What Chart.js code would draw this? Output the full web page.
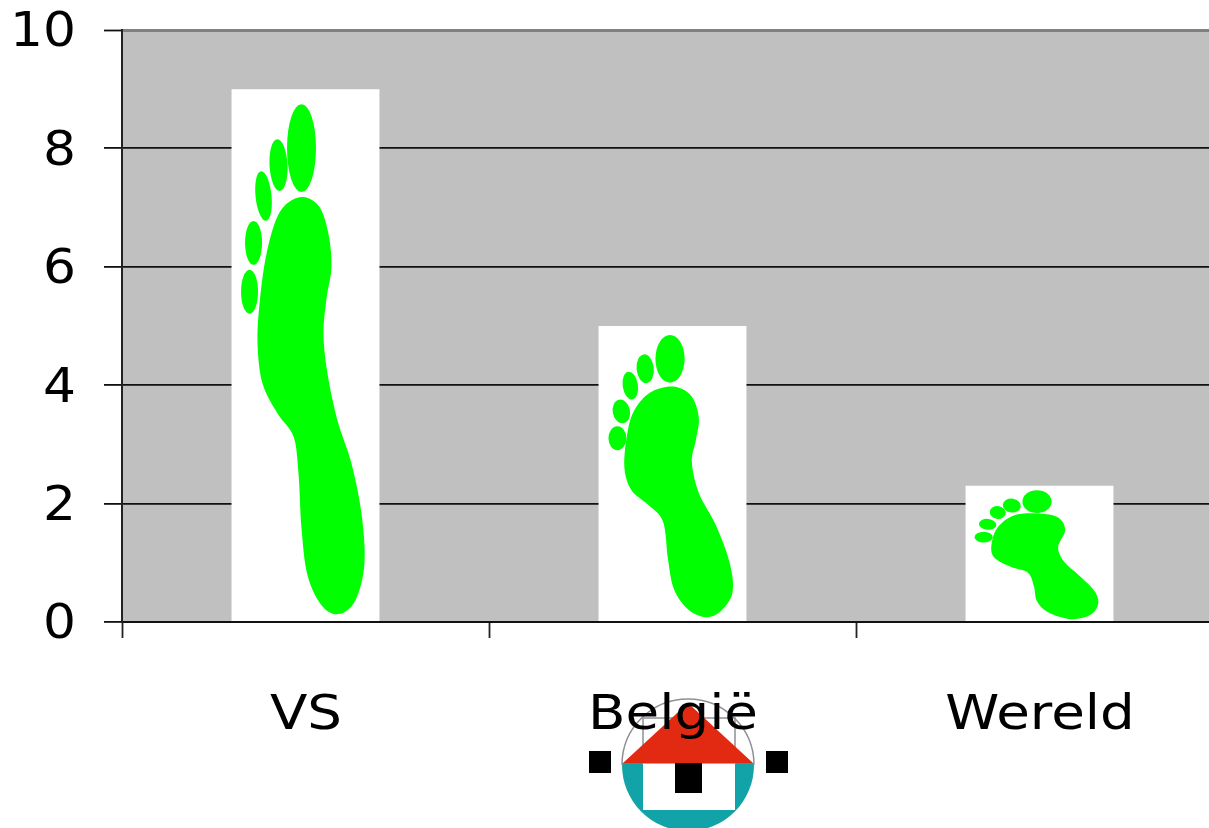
<!DOCTYPE html>
<html>
<head>
<meta charset="utf-8">
<title>Voetafdruk</title>
<script src="https://cdn.jsdelivr.net/npm/chart.js@4/dist/chart.umd.min.js"></script>
<style>
  html, body { margin: 0; padding: 0; background: #fff; overflow: hidden; }
  canvas { display: block; }
</style>
</head>
<body>
<canvas id="chart" width="1223" height="828"></canvas>
<script>
const categories = ['VS', 'België', 'Wereld'];
const footprint = [9, 5, 2.3];
const yMin = 0;
const yMax = 10;
const yStep = 2;

// Foot outlines, in units of the picture that fills each bar
const feet = [
  {
    w: 148, h: 533,
    toes: [[70, 59, 14.5, 44, 0], [47, 76, 9, 26, -0.05], [32, 107, 8, 25, -0.1], [22, 154, 8.5, 22, 0], [18, 203, 8.5, 22, 0]],
    sole: [[72, 108], [88, 118], [97, 145], [100, 178], [95, 210], [92, 245], [96, 285], [106, 332], [120, 375], [130, 425], [133, 475], [124, 512], [107, 526], [90, 517], [76, 487], [70, 440], [67, 385], [62, 348], [46, 325], [31, 295], [26, 255], [28, 215], [34, 170], [44, 132], [56, 114]]
  },
  {
    w: 149, h: 297,
    toes: [[72, 33, 14.7, 24, 0], [47, 43, 8.7, 14.5, -0.1], [32, 60, 7.7, 14, -0.15], [23, 86, 8.7, 12, -0.2], [19, 113, 9, 12, 0]],
    sole: [[75, 61], [93, 70], [101, 92], [98, 115], [94, 137], [101, 168], [118, 200], [132, 238], [135, 268], [123, 287], [108, 293], [90, 285], [76, 265], [70, 235], [65, 197], [50, 180], [33, 165], [26, 142], [29, 108], [36, 85], [52, 67]]
  },
  {
    w: 147, h: 137,
    toes: [[71, 16, 14.5, 11.5, 0], [46, 20, 9, 7, 0.15], [32, 27, 8, 6.5, 0.2], [22, 39, 8.7, 5.5, 0.1], [18, 52, 9, 5.5, 0]],
    sole: [[72, 28], [92, 32], [99, 45], [92, 62], [98, 77], [112, 90], [127, 105], [132, 118], [125, 130], [105, 135], [82, 128], [71, 117], [68, 102], [62, 88], [45, 82], [28, 72], [26, 58], [32, 42], [48, 30]]
  }
];

// closed smooth curve through the points
function smoothPath(ctx, pts) {
  const n = pts.length;
  ctx.beginPath();
  ctx.moveTo(pts[0][0], pts[0][1]);
  for (let i = 0; i < n; i++) {
    const p0 = pts[(i - 1 + n) % n], p1 = pts[i], p2 = pts[(i + 1) % n], p3 = pts[(i + 2) % n];
    ctx.bezierCurveTo(
      p1[0] + (p2[0] - p0[0]) / 6, p1[1] + (p2[1] - p0[1]) / 6,
      p2[0] - (p3[0] - p1[0]) / 6, p2[1] - (p3[1] - p1[1]) / 6,
      p2[0], p2[1]
    );
  }
  ctx.closePath();
}

const plotBackground = {
  id: 'plotBackground',
  beforeDraw(chart) {
    const { ctx, chartArea: a } = chart;
    ctx.save();
    ctx.fillStyle = '#c0c0c0';
    ctx.fillRect(a.left, a.top, a.right - a.left, a.bottom - a.top);
    ctx.restore();
  }
};

const footMarks = {
  id: 'footMarks',
  afterDatasetsDraw(chart) {
    const ctx = chart.ctx;
    chart.getDatasetMeta(0).data.forEach((bar, i) => {
      const foot = feet[i];
      const left = bar.x - bar.width / 2;
      const sx = bar.width / foot.w;
      const sy = (bar.base - bar.y) / foot.h;
      ctx.save();
      ctx.translate(left, bar.y);
      ctx.scale(sx, sy);
      ctx.fillStyle = '#00ff00';
      foot.toes.forEach(t => {
        ctx.beginPath();
        ctx.ellipse(t[0], t[1], t[2], t[3], t[4], 0, Math.PI * 2);
        ctx.fill();
      });
      smoothPath(ctx, foot.sole);
      ctx.fill();
      ctx.restore();
    });
  }
};

// house emblem under the middle category
function drawLogo(ctx) {
  ctx.save();
  ctx.beginPath();
  ctx.arc(688, 765, 66, 0, Math.PI * 2);
  ctx.save();
  ctx.clip();
  ctx.fillStyle = '#11a3a8';
  ctx.fillRect(620, 763, 136, 70);
  ctx.fillStyle = '#fff';
  ctx.fillRect(643, 763, 92, 47);
  ctx.restore();
  // thin grey ring and frame in the upper half
  ctx.strokeStyle = '#8f8f98';
  ctx.lineWidth = 1.5;
  ctx.beginPath();
  ctx.arc(688, 765, 66, Math.PI, 0);
  ctx.stroke();
  ctx.strokeRect(643, 718, 92, 45);
  ctx.fillStyle = '#e22a12';
  ctx.beginPath();
  ctx.moveTo(688, 703);
  ctx.lineTo(753, 763);
  ctx.lineTo(623, 763);
  ctx.closePath();
  ctx.fill();
  ctx.fillStyle = '#000';
  ctx.fillRect(675, 763, 27, 30);
  ctx.fillRect(589, 751, 22, 22);
  ctx.fillRect(766, 751, 22, 22);
  ctx.restore();
}

// axis labels are wider than the stock font, so they get stretched sideways
function wideText(ctx, text, x, y, stretch, align, baseline) {
  ctx.save();
  ctx.translate(x, y);
  ctx.scale(stretch, 1);
  ctx.textAlign = align;
  ctx.textBaseline = baseline;
  ctx.fillText(text, 0, 0);
  ctx.restore();
}

const axisLabels = {
  id: 'axisLabels',
  afterDraw(chart) {
    const ctx = chart.ctx;
    drawLogo(ctx);
    ctx.save();
    ctx.fillStyle = '#000';
    ctx.font = '48px "DejaVu Sans"';
    const yScale = chart.scales.y;
    yScale.ticks.forEach((tick, i) => {
      wideText(ctx, tick.label, 76, yScale.getPixelForTick(i) + 4, 1.08, 'right', 'middle');
    });
    const xScale = chart.scales.x;
    categories.forEach((name, i) => {
      wideText(ctx, name, xScale.getPixelForValue(i) + 0.5, 729, 1.14, 'center', 'alphabetic');
    });
    ctx.restore();
  }
};

new Chart(document.getElementById('chart').getContext('2d'), {
  type: 'bar',
  data: {
    labels: categories,
    datasets: [{
      data: footprint,
      backgroundColor: '#ffffff',
      borderWidth: 0,
      categoryPercentage: 1,
      barPercentage: 0.403
    }]
  },
  plugins: [plotBackground, footMarks, axisLabels],
  options: {
    responsive: false,
    animation: false,
    layout: { padding: { top: 30, left: 0, right: 0, bottom: 0 } },
    plugins: { legend: { display: false }, tooltip: { enabled: false } },
    scales: {
      x: {
        afterFit(scale) { scale.height = 206; },
        ticks: { display: false },
        grid: { drawOnChartArea: false, tickLength: 16, tickColor: '#222', tickWidth: 1.8 },
        border: { color: '#111', width: 2 }
      },
      y: {
        min: yMin,
        max: yMax,
        afterFit(scale) { scale.width = 122; },
        ticks: { display: false, stepSize: yStep },
        grid: {
          tickLength: 18,
          tickColor: '#111',
          tickWidth: 1.8,
          lineWidth: ctx => (ctx.tick && ctx.tick.value === yMax ? 3 : 1.8),
          color: ctx => (ctx.tick && ctx.tick.value === yMax ? '#808080' : '#111')
        },
        border: { color: '#222', width: 2 }
      }
    }
  }
});
</script>
</body>
</html>
